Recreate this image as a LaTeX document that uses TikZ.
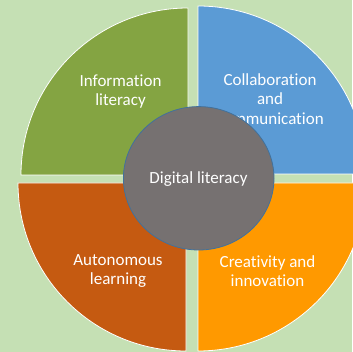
\documentclass[tikz,border=0pt]{standalone}
\usepackage{fontspec}
\setmainfont[RawFeature={-liga;-clig}]{Carlito}
\usetikzlibrary{positioning}
\usetikzlibrary{shapes.geometric}
\definecolor{bggreen}{RGB}{197,224,180}
\definecolor{infogreen}{RGB}{132,164,66}
\definecolor{collabblue}{RGB}{91,155,213}
\definecolor{autobrown}{RGB}{197,90,17}
\definecolor{creaorange}{RGB}{255,153,0}
\definecolor{coregray}{RGB}{118,113,113}
\definecolor{coreedge}{RGB}{65,113,156}
\tikzset{
  quarter/.style={draw=white, line width=0.8pt},
  quartertext/.style={text=white, align=center, inner sep=0pt, font=\fontsize{17}{19.5}\selectfont},
}

\begin{document}
\begin{tikzpicture}[x=1pt,y=1pt]
    % Background
    \fill[bggreen] (0,0) rectangle (352,352);%
    \useasboundingbox (0,0) rectangle (352,352);%

    % Quarters
    \filldraw[quarter, fill=infogreen] (188,177) -- ++(-167,0) arc[start angle=180, end angle=90, radius=167] -- cycle;% top left
    \filldraw[quarter, fill=collabblue] (198,178) -- ++(168,0) arc[start angle=0, end angle=90, radius=168] -- cycle;% top right
    \filldraw[quarter, fill=autobrown] (186,169) -- ++(-168,0) arc[start angle=180, end angle=270, radius=168] -- cycle;% bottom left
    \filldraw[quarter, fill=creaorange] (198,169) -- ++(168,0) arc[start angle=0, end angle=-90, radius=168] -- cycle;% bottom right

    % Labels
    \node[quartertext] (info) at (120.5,260.5) {Information\\literacy};%
    \node[quartertext] (collab) at (270,253) {Collaboration\\and\\communication};%
    \node[quartertext] (auto) at (118,81) {Autonomous\\learning};%
    \node[quartertext] (crea) at (267.5,81) {Creativity and\\innovation};%

    % Centre
    \node[ellipse, draw=coreedge, line width=0.8pt, fill=coregray, minimum width=150.6pt, minimum height=143.4pt, inner sep=0pt] (core) at (198.7,173.7) {};%
    \node[quartertext, anchor=base] (corelabel) at (198.5,168) {Digital literacy};%
\end{tikzpicture}
\end{document}
